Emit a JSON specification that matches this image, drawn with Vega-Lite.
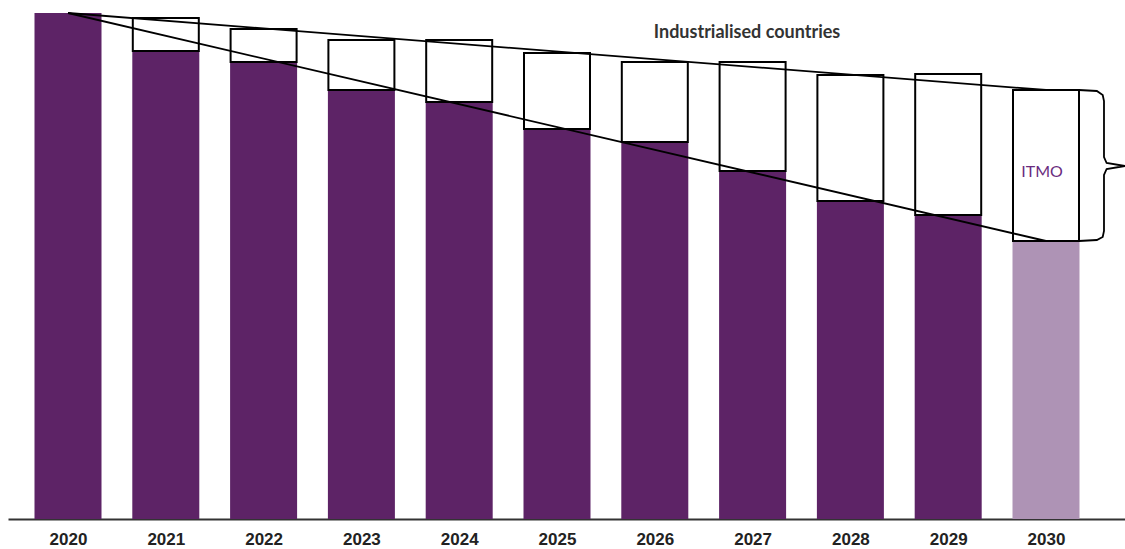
{
  "$schema": "https://vega.github.io/schema/vega-lite/v6.json",
  "autosize": "none",
  "width": 1117,
  "height": 519,
  "padding": {"left": 8, "top": 0, "right": 0, "bottom": 30},
  "background": "white",
  "config": {"view": {"stroke": null}},
  "datasets": {
    "bars": [
      {"year": 2020, "value": 506, "top": null, "kind": "actual"},
      {"year": 2021, "value": 468, "top": 501, "kind": "actual"},
      {"year": 2022, "value": 457, "top": 490, "kind": "actual"},
      {"year": 2023, "value": 429, "top": 479, "kind": "actual"},
      {"year": 2024, "value": 417, "top": 479, "kind": "actual"},
      {"year": 2025, "value": 390, "top": 466, "kind": "actual"},
      {"year": 2026, "value": 377, "top": 457, "kind": "actual"},
      {"year": 2027, "value": 348, "top": 457, "kind": "actual"},
      {"year": 2028, "value": 318, "top": 444, "kind": "actual"},
      {"year": 2029, "value": 304, "top": 445, "kind": "actual"},
      {"year": 2030, "value": 278, "top": 429, "kind": "target"}
    ],
    "lines": [
      {"line": "upper", "year": 2020, "value": 506},
      {"line": "upper", "year": 2030, "value": 429},
      {"line": "lower", "year": 2020, "value": 506},
      {"line": "lower", "year": 2030, "value": 278}
    ],
    "brace": [
      {"i": 1, "x": 2030.337, "value": 429},
      {"i": 2, "x": 2030.52, "value": 428},
      {"i": 3, "x": 2030.58, "value": 424},
      {"i": 4, "x": 2030.593, "value": 418},
      {"i": 5, "x": 2030.593, "value": 362},
      {"i": 6, "x": 2030.62, "value": 356},
      {"i": 7, "x": 2030.808, "value": 353},
      {"i": 8, "x": 2030.62, "value": 350},
      {"i": 9, "x": 2030.593, "value": 344},
      {"i": 10, "x": 2030.593, "value": 288},
      {"i": 11, "x": 2030.58, "value": 282},
      {"i": 12, "x": 2030.52, "value": 279},
      {"i": 13, "x": 2030.337, "value": 278}
    ],
    "labels": [
      {"label": "Industrialised countries", "x": 2026.943, "value": 486, "kind": "title"},
      {"label": "ITMO", "x": 2029.96, "value": 347, "kind": "itmo"}
    ]
  },
  "layer": [
    {
      "data": {"name": "bars"},
      "mark": {"type": "bar", "width": 67},
      "encoding": {
        "x": {
          "field": "year", "type": "quantitative",
          "scale": {"domain": [2019.3865, 2030.8078], "nice": false, "zero": false, "padding": 0},
          "axis": {
            "values": [2020, 2021, 2022, 2023, 2024, 2025, 2026, 2027, 2028, 2029, 2030],
            "format": "d", "title": null, "ticks": false, "grid": false,
            "domainColor": "#333333", "domainWidth": 2,
            "labelFont": "Liberation Sans", "labelFontWeight": "bold",
            "labelFontSize": 17, "labelColor": "#222222", "labelPadding": 12,
            "labelFlush": false, "labelOverlap": false
          }
        },
        "y": {"field": "value", "type": "quantitative", "scale": {"domain": [0, 519], "nice": false}, "axis": null},
        "color": {"field": "kind", "type": "nominal", "scale": {"domain": ["actual", "target"], "range": ["#5d2366", "#ae93b5"]}, "legend": null}
      }
    },
    {
      "data": {"name": "bars"},
      "transform": [{"filter": "datum.top != null"}],
      "mark": {"type": "bar", "width": 66, "fill": "white", "stroke": "black", "strokeWidth": 2},
      "encoding": {
        "x": {"field": "year", "type": "quantitative"},
        "y": {"field": "value", "type": "quantitative"},
        "y2": {"field": "top"}
      }
    },
    {
      "data": {"name": "lines"},
      "mark": {"type": "line", "color": "black", "strokeWidth": 1.8},
      "encoding": {
        "x": {"field": "year", "type": "quantitative"},
        "y": {"field": "value", "type": "quantitative"},
        "detail": {"field": "line"}
      }
    },
    {
      "data": {"name": "brace"},
      "mark": {"type": "line", "color": "black", "strokeWidth": 1.8, "interpolate": "linear"},
      "encoding": {
        "x": {"field": "x", "type": "quantitative"},
        "y": {"field": "value", "type": "quantitative"},
        "order": {"field": "i", "type": "quantitative"}
      }
    },
    {
      "data": {"name": "labels"},
      "transform": [{"filter": "datum.kind == 'title'"}],
      "mark": {"type": "text", "font": "Lato", "fontWeight": "bold", "fontSize": 18, "color": "#333333", "baseline": "middle", "align": "center"},
      "encoding": {
        "x": {"field": "x", "type": "quantitative"},
        "y": {"field": "value", "type": "quantitative"},
        "text": {"field": "label"}
      }
    },
    {
      "data": {"name": "labels"},
      "transform": [{"filter": "datum.kind == 'itmo'"}],
      "mark": {"type": "text", "font": "Lato", "fontSize": 16, "color": "#6a2c7e", "baseline": "middle", "align": "center"},
      "encoding": {
        "x": {"field": "x", "type": "quantitative"},
        "y": {"field": "value", "type": "quantitative"},
        "text": {"field": "label"}
      }
    }
  ]
}
